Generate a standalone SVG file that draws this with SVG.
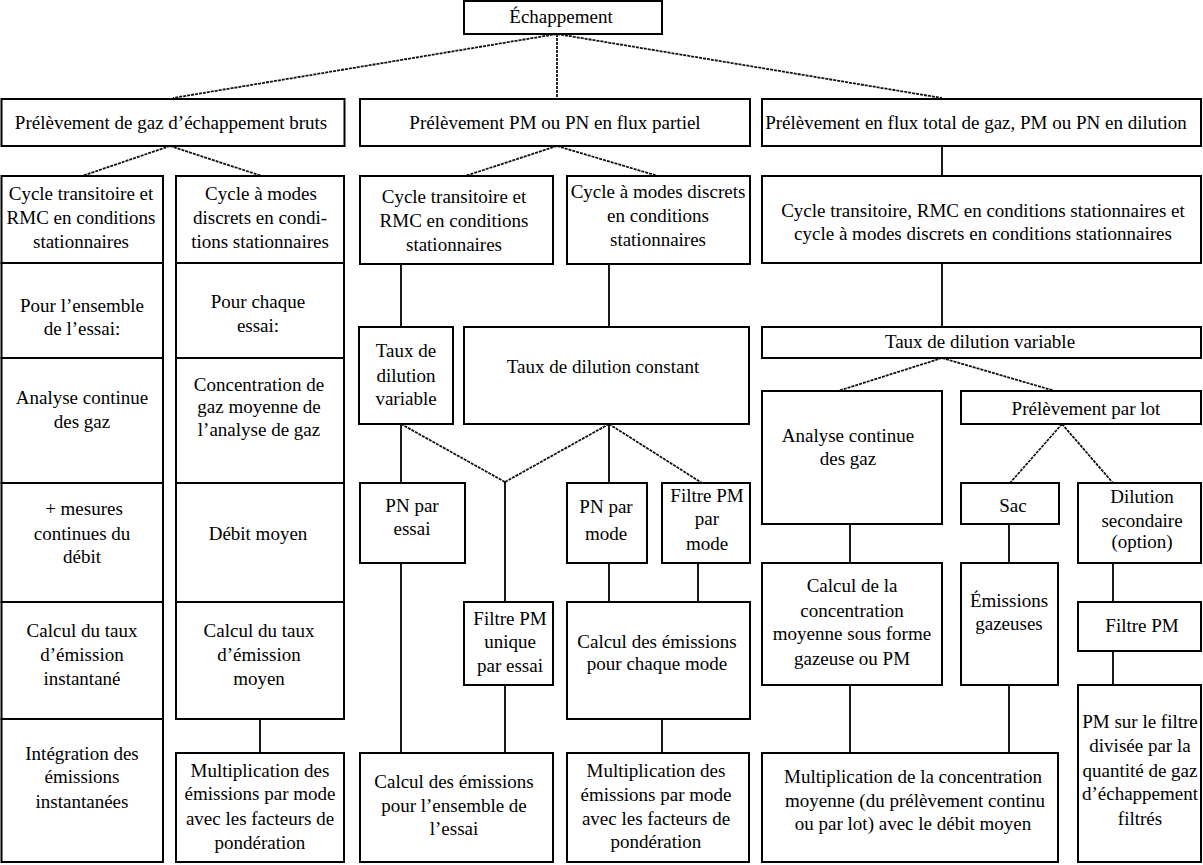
<svg xmlns="http://www.w3.org/2000/svg" width="1203" height="865" viewBox="0 0 1203 865">
<style>
.b{fill:#fff;stroke:#000;stroke-width:2}
.t{font-family:"Liberation Serif","Times New Roman",serif;font-size:19px;fill:#000;text-anchor:middle}
.s{stroke:#000;stroke-width:1.8;fill:none}
.d{stroke:#111;stroke-width:1.8;stroke-dasharray:3 1;fill:none}
</style>
<rect width="1203" height="865" fill="#fff"/>
<g id="connectors">
<path class="d" d="M557,34L173,98M557,34L557,98M557,34L942,98M170,146L82,176M170,146L262,176M557,146L465,176M557,146L658,176M401,424L505,482M609,424L505,482M609,424L702,483M942,358L838,391M942,358L1055,391M1062,424L1010,483M1062,424L1113,483"/>
<path class="s" d="M942,146V176M942,263V327M401,264V327M609,264V327M401,424V483M609,424V483M505,482V602M401,563V753M609,563V602M698,563V602M505,685V753M662,719V753M260,719V753M850,524V563M1009,524V563M1113,563V602M1113,651V685M850,685V753M1009,685V753"/>
</g>
<g id="n0"><rect class="b" x="464" y="1" width="198" height="33"/><text class="t" x="561" y="23">Échappement</text></g>
<g id="nA"><rect class="b" x="1.5" y="99" width="343" height="47"/><text class="t" x="171" y="129">Prélèvement de gaz d’échappement bruts</text></g>
<g id="nB"><rect class="b" x="360" y="99" width="390" height="47"/><text class="t" x="555" y="129">Prélèvement PM ou PN en flux partiel</text></g>
<g id="nC"><rect class="b" x="762" y="99" width="439" height="47"/><text class="t" x="976" y="129">Prélèvement en flux total de gaz, PM ou PN en dilution</text></g>
<g id="nA1"><rect class="b" x="1.5" y="176" width="161.5" height="87"/><text class="t" x="81" y="200">Cycle transitoire et</text><text class="t" x="81" y="224">RMC en conditions</text><text class="t" x="81" y="248">stationnaires</text></g>
<g id="nA1b"><rect class="b" x="1.5" y="263" width="161.5" height="95"/><text class="t" x="82" y="312">Pour l’ensemble</text><text class="t" x="82" y="335">de l’essai:</text></g>
<g id="nA1c"><rect class="b" x="1.5" y="358" width="161.5" height="125"/><text class="t" x="82" y="404">Analyse continue</text><text class="t" x="82" y="428">des gaz</text></g>
<g id="nA1d"><rect class="b" x="1.5" y="483" width="161.5" height="119"/><text class="t" x="84" y="515">+ mesures</text><text class="t" x="82" y="540">continues du</text><text class="t" x="82" y="563">débit</text></g>
<g id="nA1e"><rect class="b" x="1.5" y="602" width="161.5" height="117"/><text class="t" x="82" y="637">Calcul du taux</text><text class="t" x="82" y="661">d’émission</text><text class="t" x="82" y="685">instantané</text></g>
<g id="nA1f"><rect class="b" x="1.5" y="719" width="161.5" height="143"/><text class="t" x="82" y="760">Intégration des</text><text class="t" x="82" y="783">émissions</text><text class="t" x="82" y="808">instantanées</text></g>
<g id="nA2"><rect class="b" x="176" y="176" width="168" height="87"/><text class="t" x="261" y="200">Cycle à modes</text><text class="t" x="260" y="224">discrets en condi-</text><text class="t" x="260" y="248">tions stationnaires</text></g>
<g id="nA2b"><rect class="b" x="176" y="263" width="168" height="95"/><text class="t" x="258" y="308">Pour chaque</text><text class="t" x="258" y="332">essai:</text></g>
<g id="nA2c"><rect class="b" x="176" y="358" width="168" height="125"/><text class="t" x="259" y="391">Concentration de</text><text class="t" x="259" y="413">gaz moyenne de</text><text class="t" x="259" y="436">l’analyse de gaz</text></g>
<g id="nA2d"><rect class="b" x="176" y="483" width="168" height="119"/><text class="t" x="258" y="540">Débit moyen</text></g>
<g id="nA2e"><rect class="b" x="176" y="602" width="168" height="117"/><text class="t" x="259" y="637">Calcul du taux</text><text class="t" x="259" y="661">d’émission</text><text class="t" x="259" y="685">moyen</text></g>
<g id="nA2f"><rect class="b" x="176" y="753" width="168" height="109"/><text class="t" x="260" y="777">Multiplication des</text><text class="t" x="260" y="800">émissions par mode</text><text class="t" x="260" y="825">avec les facteurs de</text><text class="t" x="260" y="849">pondération</text></g>
<g id="nB1"><rect class="b" x="360" y="176" width="193" height="88"/><text class="t" x="454" y="203">Cycle transitoire et</text><text class="t" x="454" y="227">RMC en conditions</text><text class="t" x="454" y="251">stationnaires</text></g>
<g id="nB2"><rect class="b" x="567" y="176" width="183" height="88"/><text class="t" x="658" y="198">Cycle à modes discrets</text><text class="t" x="658" y="222">en conditions</text><text class="t" x="658" y="246">stationnaires</text></g>
<g id="nTdV"><rect class="b" x="359" y="327" width="94" height="97"/><text class="t" x="406" y="357">Taux de</text><text class="t" x="406" y="382">dilution</text><text class="t" x="406" y="405">variable</text></g>
<g id="nTdC"><rect class="b" x="464" y="327" width="285" height="97"/><text class="t" x="603" y="373">Taux de dilution constant</text></g>
<g id="nPNe"><rect class="b" x="360" y="483" width="105" height="80"/><text class="t" x="412" y="512">PN par</text><text class="t" x="412" y="535">essai</text></g>
<g id="nPNm"><rect class="b" x="567" y="483" width="80" height="80"/><text class="t" x="606" y="513">PN par</text><text class="t" x="606" y="540">mode</text></g>
<g id="nFPMm"><rect class="b" x="662" y="483" width="88" height="80"/><text class="t" x="707" y="502">Filtre PM</text><text class="t" x="707" y="525">par</text><text class="t" x="707" y="550">mode</text></g>
<g id="nFPMu"><rect class="b" x="464" y="602" width="89" height="83"/><text class="t" x="510" y="625">Filtre PM</text><text class="t" x="510" y="648">unique</text><text class="t" x="510" y="672">par essai</text></g>
<g id="nCEm"><rect class="b" x="567" y="602" width="183" height="117"/><text class="t" x="657" y="648">Calcul des émissions</text><text class="t" x="657" y="670">pour chaque mode</text></g>
<g id="nCEe"><rect class="b" x="360" y="753" width="193" height="109"/><text class="t" x="454" y="788">Calcul des émissions</text><text class="t" x="454" y="812">pour l’ensemble de</text><text class="t" x="454" y="835">l’essai</text></g>
<g id="nMm"><rect class="b" x="567" y="753" width="182" height="109"/><text class="t" x="656" y="777">Multiplication des</text><text class="t" x="656" y="801">émissions par mode</text><text class="t" x="656" y="825">avec les facteurs de</text><text class="t" x="656" y="848">pondération</text></g>
<g id="nC1"><rect class="b" x="762" y="176" width="439" height="87"/><text class="t" x="983" y="217">Cycle transitoire, RMC en conditions stationnaires et</text><text class="t" x="983" y="240">cycle à modes discrets en conditions stationnaires</text></g>
<g id="nCTdV"><rect class="b" x="762" y="327" width="439" height="31"/><text class="t" x="980" y="348">Taux de dilution variable</text></g>
<g id="nCAn"><rect class="b" x="762" y="391" width="180" height="133"/><text class="t" x="848" y="442">Analyse continue</text><text class="t" x="848" y="465">des gaz</text></g>
<g id="nCPl"><rect class="b" x="961" y="391" width="240" height="33"/><text class="t" x="1086" y="415">Prélèvement par lot</text></g>
<g id="nSac"><rect class="b" x="961" y="483" width="98" height="41"/><text class="t" x="1013" y="512">Sac</text></g>
<g id="nDil"><rect class="b" x="1078" y="483" width="123" height="80"/><text class="t" x="1142" y="503">Dilution</text><text class="t" x="1142" y="527">secondaire</text><text class="t" x="1142" y="548">(option)</text></g>
<g id="nCCc"><rect class="b" x="762" y="563" width="180" height="122"/><text class="t" x="852" y="592">Calcul de la</text><text class="t" x="852" y="617">concentration</text><text class="t" x="852" y="640">moyenne sous forme</text><text class="t" x="852" y="665">gazeuse ou PM</text></g>
<g id="nEg"><rect class="b" x="961" y="563" width="97" height="122"/><text class="t" x="1009" y="607">Émissions</text><text class="t" x="1009" y="630">gazeuses</text></g>
<g id="nFPM"><rect class="b" x="1078" y="602" width="123" height="49"/><text class="t" x="1142" y="632">Filtre PM</text></g>
<g id="nPMf"><rect class="b" x="1078" y="685" width="123" height="177"/><text class="t" x="1140" y="728">PM sur le filtre</text><text class="t" x="1140" y="752">divisée par la</text><text class="t" x="1140" y="777">quantité de gaz</text><text class="t" x="1140" y="800">d’échappement</text><text class="t" x="1140" y="825">filtrés</text></g>
<g id="nMr"><rect class="b" x="762" y="753" width="296" height="109"/><text class="t" x="913" y="783">Multiplication de la concentration</text><text class="t" x="915" y="807">moyenne (du prélèvement continu</text><text class="t" x="913" y="830">ou par lot) avec le débit moyen</text></g>
</svg>
